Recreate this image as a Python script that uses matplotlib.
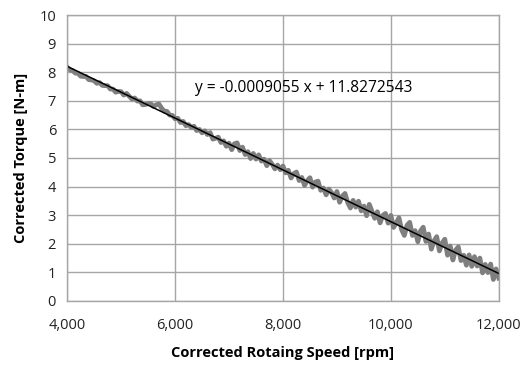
import numpy as np
import matplotlib
matplotlib.use("Agg")
import matplotlib.pyplot as plt

plt.rcParams['font.family'] = ['Open Sans', 'DejaVu Sans']

speed_start = 4000
speed_step = 50
torque = [
    8.18, 8.08, 8.06, 7.97, 7.96, 7.86, 7.85, 7.85, 7.74, 7.73,
    7.70, 7.61, 7.64, 7.54, 7.53, 7.53, 7.41, 7.41, 7.30, 7.33,
    7.32, 7.20, 7.26, 7.16, 7.06, 7.10, 6.99, 7.00, 6.86, 6.87,
    6.90, 6.90, 6.80, 6.86, 6.89, 6.74, 6.64, 6.63, 6.50, 6.49,
    6.37, 6.39, 6.24, 6.28, 6.13, 6.17, 6.07, 6.11, 5.96, 6.00,
    5.88, 5.95, 5.82, 5.89, 5.66, 5.69, 5.73, 5.54, 5.60, 5.41,
    5.52, 5.29, 5.50, 5.53, 5.26, 5.38, 5.12, 5.22, 4.98, 5.16,
    4.96, 5.11, 4.89, 4.96, 4.73, 4.91, 4.78, 4.62, 4.75, 4.59,
    4.72, 4.48, 4.57, 4.30, 4.45, 4.51, 4.21, 4.32, 4.04, 4.21,
    4.31, 3.98, 4.16, 4.19, 3.87, 3.95, 3.71, 3.91, 3.79, 3.60,
    3.83, 3.45, 3.67, 3.76, 3.44, 3.25, 3.52, 3.28, 3.49, 3.15,
    3.32, 2.98, 3.38, 3.14, 2.89, 3.12, 2.73, 2.99, 3.06, 2.72,
    2.99, 2.57, 2.73, 2.91, 2.49, 2.29, 2.65, 2.75, 2.29, 2.46,
    2.07, 2.45, 2.58, 2.08, 2.34, 1.81, 2.10, 2.25, 1.75, 2.03,
    2.16, 1.60, 1.92, 1.43, 1.78, 1.89, 1.41, 1.60, 1.25, 1.61,
    1.21, 1.55, 1.22, 1.50, 0.98, 1.28, 0.99, 1.29, 0.75, 1.12,
    0.80,
]
speed = speed_start + speed_step * np.arange(len(torque))

slope = -0.0009055
intercept = 11.8272543
x_ticks = [4000, 6000, 8000, 10000, 12000]
y_ticks = list(range(0, 11))

fig = plt.figure(figsize=(5.25, 3.67), dpi=100)
ax = fig.add_axes([0.128, 0.180, 0.822, 0.779])

ax.plot(speed, torque, color='#7f7f7f', lw=3.4, solid_joinstyle='round')
trend_x = np.array([speed[0], speed[-1]])
ax.plot(trend_x, slope * trend_x + intercept, color='black', lw=1.1)

ax.set_xlim(4000, 12000)
ax.set_ylim(0, 10)
ax.set_xticks(x_ticks)
ax.set_xticklabels([f"{v:,}" for v in x_ticks])
ax.set_yticks(y_ticks)
ax.grid(True, color='#a6a6a6', lw=1)
ax.set_axisbelow(True)
for s in ax.spines.values():
    s.set_color('#a6a6a6')
    s.set_linewidth(1)
ax.tick_params(length=0, labelsize=10.5, pad=12, colors='#222222')
ax.tick_params(axis='y', pad=8)

ax.set_xlabel('Corrected Rotaing Speed [rpm]', fontsize=10.5, fontweight='bold', labelpad=10)
ax.set_ylabel('Corrected Torque [N-m]', fontsize=10.5, fontweight='bold', labelpad=8)

ax.text(6370, 7.45, 'y = -0.0009055 x + 11.8272543', fontsize=11.2, ha='left', va='center')

fig.savefig('out.png', dpi=100)
